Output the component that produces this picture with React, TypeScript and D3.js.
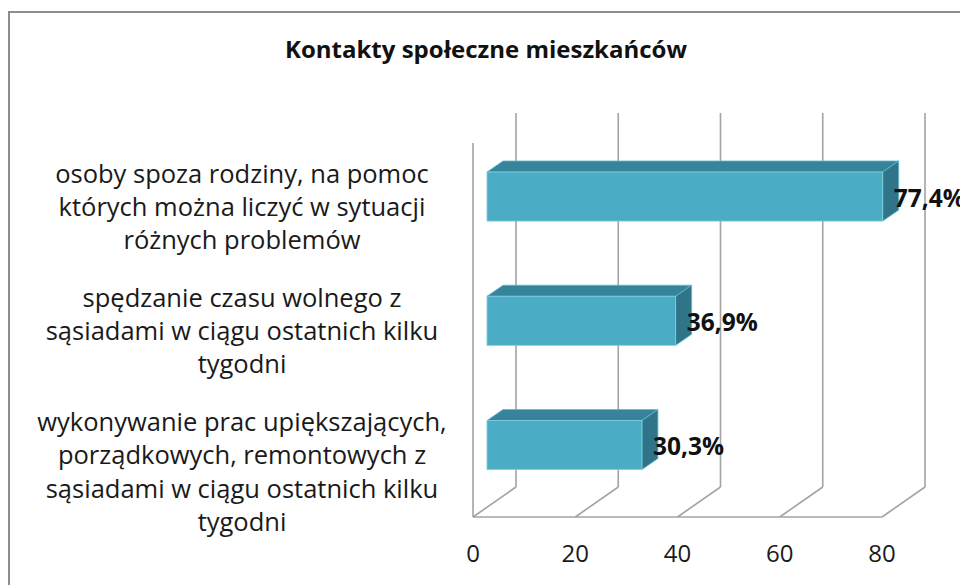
import React, { useRef, useEffect } from 'react';
import * as d3 from 'd3';

const title = 'Kontakty społeczne mieszkańców';
const categories = ['pomoc', 'czas', 'prace'];
const categoryLines = [
  ['osoby spoza rodziny, na pomoc', 'których można liczyć w sytuacji', 'różnych problemów'],
  ['spędzanie czasu wolnego z', 'sąsiadami w ciągu ostatnich kilku', 'tygodni'],
  ['wykonywanie prac upiększających,', 'porządkowych, remontowych z', 'sąsiadami w ciągu ostatnich kilku', 'tygodni'],
];
const values = [77.4, 36.9, 30.3];
const valueLabels = ['77,4%', '36,9%', '30,3%'];
const ticks = [0, 20, 40, 60, 80];

const W = 960;
const H = 585;
const FONT = '"Open Sans", "DejaVu Sans", sans-serif';

const App = () => {
  const svgRef = useRef(null);

  useEffect(() => {
    const svg = d3.select(svgRef.current).html('');

    // scales: front plane of the 3D box, and bar band positions
    const x = d3.scaleLinear().domain([0, 80]).range([473, 882]);
    const y = d3.scaleBand().domain(categories).range([134.4, 507.2])
      .paddingInner(0.605).paddingOuter(0.3025);

    const back = { dx: 43, dy: -30 };
    const floorY = 517;
    const wallTop = 143;
    const barShift = 14;
    const depth = { dx: 16, dy: -11 };
    const grid = '#a3a3a3';

    // outer frame
    svg.append('rect')
      .attr('x', 9).attr('y', 12)
      .attr('width', W).attr('height', H)
      .attr('fill', '#fff')
      .attr('stroke', '#8c8c8c')
      .attr('stroke-width', 2);

    // title
    svg.append('text')
      .attr('x', 486).attr('y', 58)
      .attr('text-anchor', 'middle')
      .attr('font-family', FONT)
      .attr('font-size', 24)
      .attr('font-weight', 700)
      .attr('fill', '#111')
      .text(title);

    // back gridlines
    svg.append('g').selectAll('line')
      .data(ticks)
      .enter()
      .append('line')
        .attr('x1', d => x(d) + back.dx)
        .attr('x2', d => x(d) + back.dx)
        .attr('y1', wallTop + back.dy)
        .attr('y2', floorY + back.dy)
        .attr('stroke', grid)
        .attr('stroke-width', 1.6);

    // floor diagonals
    svg.append('g').selectAll('line')
      .data(ticks)
      .enter()
      .append('line')
        .attr('x1', d => x(d))
        .attr('x2', d => x(d) + back.dx)
        .attr('y1', floorY)
        .attr('y2', floorY + back.dy)
        .attr('stroke', grid)
        .attr('stroke-width', 1.6);

    // front floor edge and left wall edge
    svg.append('line')
      .attr('x1', x(0)).attr('x2', x(80))
      .attr('y1', floorY).attr('y2', floorY)
      .attr('stroke', grid).attr('stroke-width', 1.6);
    svg.append('line')
      .attr('x1', x(0)).attr('x2', x(0))
      .attr('y1', wallTop).attr('y2', floorY)
      .attr('stroke', grid).attr('stroke-width', 1.6);

    // bars
    const bars = svg.append('g').selectAll('g')
      .data(values)
      .enter()
      .append('g');

    bars.append('path')
      .attr('d', (d, i) => {
        const x0 = x(0) + barShift;
        const x1 = x(d) + barShift;
        const y0 = y(categories[i]);
        return `M${x0},${y0}L${x0 + depth.dx},${y0 + depth.dy}L${x1 + depth.dx},${y0 + depth.dy}L${x1},${y0}Z`;
      })
      .attr('fill', '#36849A')
      .attr('stroke', '#5fb9cf')
      .attr('stroke-width', 0.8);

    bars.append('path')
      .attr('d', (d, i) => {
        const x1 = x(d) + barShift;
        const y0 = y(categories[i]);
        const y1 = y0 + y.bandwidth();
        return `M${x1},${y0}L${x1 + depth.dx},${y0 + depth.dy}L${x1 + depth.dx},${y1 + depth.dy}L${x1},${y1}Z`;
      })
      .attr('fill', '#2F7488')
      .attr('stroke', '#5fb9cf')
      .attr('stroke-width', 0.8);

    bars.append('rect')
      .attr('x', x(0) + barShift)
      .attr('y', (d, i) => y(categories[i]))
      .attr('width', d => x(d) - x(0))
      .attr('height', y.bandwidth())
      .attr('fill', '#4BACC6')
      .attr('stroke', '#7fcfe0')
      .attr('stroke-width', 0.8);

    // value labels
    svg.append('g').selectAll('text')
      .data(values)
      .enter()
      .append('text')
        .attr('x', d => x(d) + barShift + 11)
        .attr('y', (d, i) => y(categories[i]) + y.bandwidth() / 2 + 10)
        .attr('font-family', FONT)
        .attr('font-size', 24.5)
        .attr('font-weight', 700)
        .attr('fill', '#111')
        .text((d, i) => valueLabels[i]);

    // category labels
    const labels = svg.append('g').selectAll('text')
      .data(categoryLines)
      .enter()
      .append('text')
        .attr('text-anchor', 'middle')
        .attr('font-family', FONT)
        .attr('font-size', 25.5)
        .attr('fill', '#1a1a1a');
    labels.each(function (lines, i) {
      const top = y(categories[i]) + y.bandwidth() / 2 - 14;
      d3.select(this).selectAll('tspan')
        .data(lines)
        .enter()
        .append('tspan')
          .attr('x', 242)
          .attr('y', (l, j) => top + j * 33.3)
          .text(l => l);
    });

    // axis tick labels
    svg.append('g').selectAll('text')
      .data(ticks)
      .enter()
      .append('text')
        .attr('x', d => x(d))
        .attr('y', 562)
        .attr('text-anchor', 'middle')
        .attr('font-family', FONT)
        .attr('font-size', 24)
        .attr('fill', '#1a1a1a')
        .text(d => d);
  }, []);

  return (
    <svg
      ref={svgRef}
      width={W}
      height={H}
      style={{ position: 'absolute', left: 0, top: 0, background: '#fff' }}
    />
  );
};

export default App;
